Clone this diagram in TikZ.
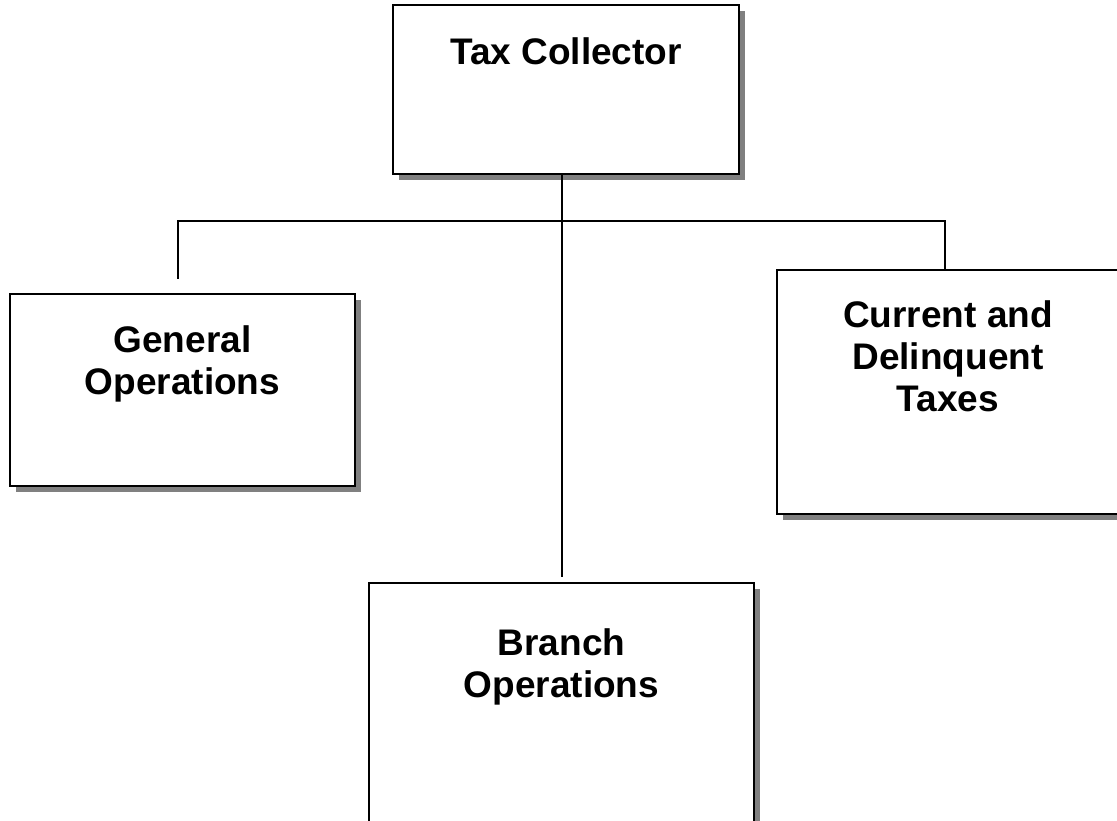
\documentclass[tikz,border=0pt]{standalone}
\usepackage{fontspec}
\setmainfont{Liberation Sans}
\usetikzlibrary{shadows}
\begin{document}
\begin{tikzpicture}[x=1pt,y=-1pt,
  orgbox/.style={draw=black, line width=1.5pt, fill=white, rectangle, inner sep=0pt,
    drop shadow={shadow xshift=6pt, shadow yshift=-6pt, fill=black!50, opacity=1}},
  orgtext/.style={font=\bfseries\fontsize{37}{42}\selectfont, align=center, inner sep=0pt, anchor=north},
  conn/.style={draw=black, line width=1.5pt}]
\useasboundingbox (0,0) rectangle (1117,821);
\clip (0,0) rectangle (1117,821);
% boxes
\node[orgbox, minimum width=346pt, minimum height=169pt] (top) at (566,89.5) {};
\node[orgbox, minimum width=345pt, minimum height=192pt] (gen) at (182.5,390) {};
\node[orgbox, minimum width=348pt, minimum height=244pt] (cur) at (951,392) {};
\node[orgbox, minimum width=385pt, minimum height=260pt] (br) at (561.5,713) {};
% texts
\node[orgtext] (ttop) at (566,37) {Tax Collector};
\node[orgtext] (tgen) at (182.5,325) {General\\Operations};
\node[orgtext] (tcur) at (948,300) {Current and\\Delinquent\\Taxes};
\node[orgtext] (tbr) at (561.5,628) {Branch\\Operations};
% connector points
\coordinate (topout) at (562,174);
\coordinate (brend) at (562,577);
\coordinate (genend) at (178,279);
\coordinate (bar) at (178,221);
\coordinate (curin) at (945,270);
\draw[conn] (topout) -- (brend);
\draw[conn] (genend) -- (bar) -- (bar -| curin) -- (curin);
\end{tikzpicture}
\end{document}
